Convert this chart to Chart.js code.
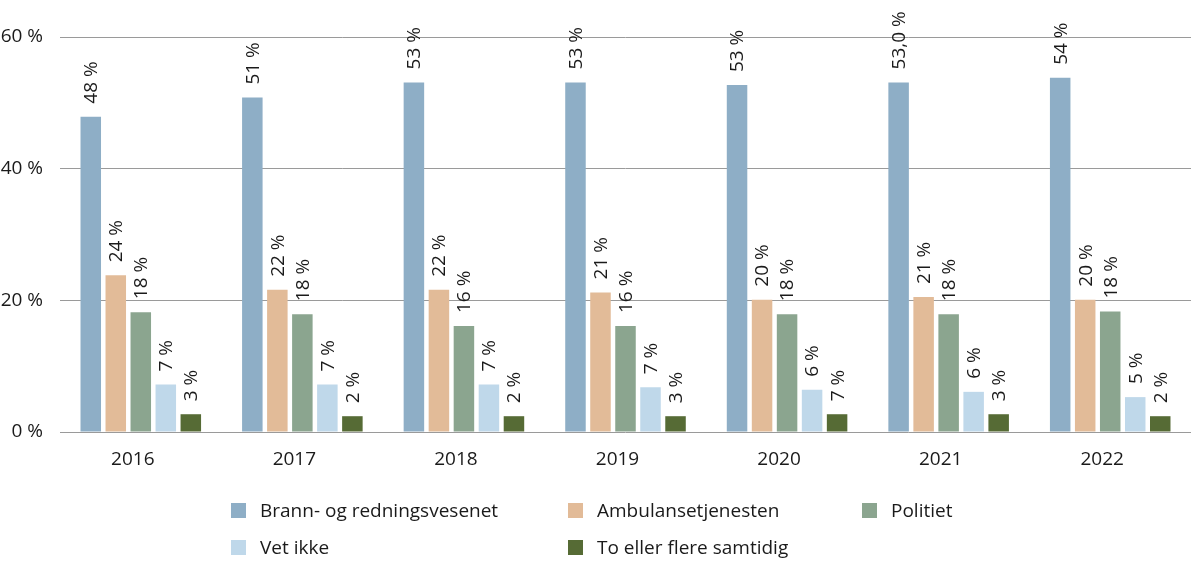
<!DOCTYPE html>
<html>
<head>
<meta charset="utf-8">
<script src="https://cdn.jsdelivr.net/npm/chart.js@4.4.1/dist/chart.umd.min.js"></script>
<style>
  body { margin: 0; background: #fff; font-family: "Open Sans", sans-serif; }
  #wrap { position: relative; width: 1200px; height: 574px; }
  #legend { position: absolute; left: 0; top: 0; width: 1200px; height: 574px; pointer-events: none; }
  .item { position: absolute; display: flex; align-items: center; font-size: 19px; color: #1a1a1a; white-space: nowrap; }
  .box { width: 15px; height: 15px; margin-right: 14px; }
</style>
</head>
<body>
<div id="wrap">
  <canvas id="chart" width="1200" height="574"></canvas>
  <div id="legend"></div>
</div>
<script>
const years = ['2016', '2017', '2018', '2019', '2020', '2021', '2022'];
const seriesNames = ['Brann- og redningsvesenet', 'Ambulansetjenesten', 'Politiet', 'Vet ikke', 'To eller flere samtidig'];
const colors = ['#8eaec6', '#e2bb98', '#8ba58f', '#bfd8ea', '#566b35'];

// bar heights (percent)
const brann = [47.9, 50.8, 53.1, 53.1, 52.7, 53.1, 53.8];
const ambulanse = [23.8, 21.6, 21.6, 21.2, 20.1, 20.5, 20.1];
const politi = [18.2, 17.9, 16.1, 16.1, 17.9, 17.9, 18.3];
const vetIkke = [7.2, 7.2, 7.2, 6.8, 6.4, 6.1, 5.3];
const flere = [2.7, 2.4, 2.4, 2.4, 2.7, 2.7, 2.4];

// printed labels, as they stand in the picture
const brannLabels = ['48 %', '51 %', '53 %', '53 %', '53 %', '53,0 %', '54 %'];
const ambulanseLabels = ['24 %', '22 %', '22 %', '21 %', '20 %', '21 %', '20 %'];
const politiLabels = ['18 %', '18 %', '16 %', '16 %', '18 %', '18 %', '18 %'];
const vetIkkeLabels = ['7 %', '7 %', '7 %', '7 %', '6 %', '6 %', '5 %'];
const flereLabels = ['3 %', '2 %', '2 %', '3 %', '7 %', '3 %', '2 %'];

const yTicks = [0, 20, 40, 60];

const values = [brann, ambulanse, politi, vetIkke, flere];
const labels = [brannLabels, ambulanseLabels, politiLabels, vetIkkeLabels, flereLabels];

const barLabels = {
  id: 'barLabels',
  afterDatasetsDraw(chart) {
    const ctx = chart.ctx;
    ctx.save();
    ctx.font = '19px "Open Sans"';
    ctx.fillStyle = '#1a1a1a';
    ctx.textAlign = 'left';
    ctx.textBaseline = 'middle';
    chart.data.datasets.forEach((ds, i) => {
      chart.getDatasetMeta(i).data.forEach((bar, j) => {
        ctx.save();
        ctx.translate(bar.x + 1, bar.y - 13);
        ctx.rotate(-Math.PI / 2);
        ctx.fillText(labels[i][j], 0, 0);
        ctx.restore();
      });
    });
    ctx.restore();
  }
};

new Chart(document.getElementById('chart'), {
  type: 'bar',
  data: {
    labels: years,
    datasets: seriesNames.map((name, i) => ({
      label: name,
      data: values[i],
      backgroundColor: colors[i],
      categoryPercentage: 0.774,
      barPercentage: 0.82
    }))
  },
  options: {
    responsive: false,
    animation: false,
    layout: { padding: { top: 37, right: 9, left: 0, bottom: 0 } },
    plugins: { legend: { display: false }, tooltip: { enabled: false } },
    scales: {
      x: {
        grid: { display: false },
        border: { display: false },
        ticks: { color: '#1a1a1a', font: { family: 'Open Sans', size: 19 }, padding: 8, labelOffset: -8, maxRotation: 0 },
        afterFit(scale) { scale.height = 142; }
      },
      y: {
        min: 0,
        max: 60,
        afterBuildTicks(scale) { scale.ticks = yTicks.map(v => ({ value: v })); },
        grid: { color: '#9a9a9a', lineWidth: 1, drawTicks: false },
        border: { display: false },
        ticks: { color: '#1a1a1a', font: { family: 'Open Sans', size: 19 }, padding: 17, callback: v => v + ' %' },
        afterFit(scale) { scale.width = 60; }
      }
    }
  },
  plugins: [barLabels]
});

// legend in three columns, two rows
const legendPos = [[231, 510], [568, 510], [862, 510], [231, 547], [568, 547]];
const legend = document.getElementById('legend');
seriesNames.forEach((name, i) => {
  const item = document.createElement('div');
  item.className = 'item';
  item.style.left = legendPos[i][0] + 'px';
  item.style.top = (legendPos[i][1] - 13) + 'px';
  item.style.height = '26px';
  item.innerHTML = '<span class="box" style="background:' + colors[i] + '"></span>' + name;
  legend.appendChild(item);
});
</script>
</body>
</html>
